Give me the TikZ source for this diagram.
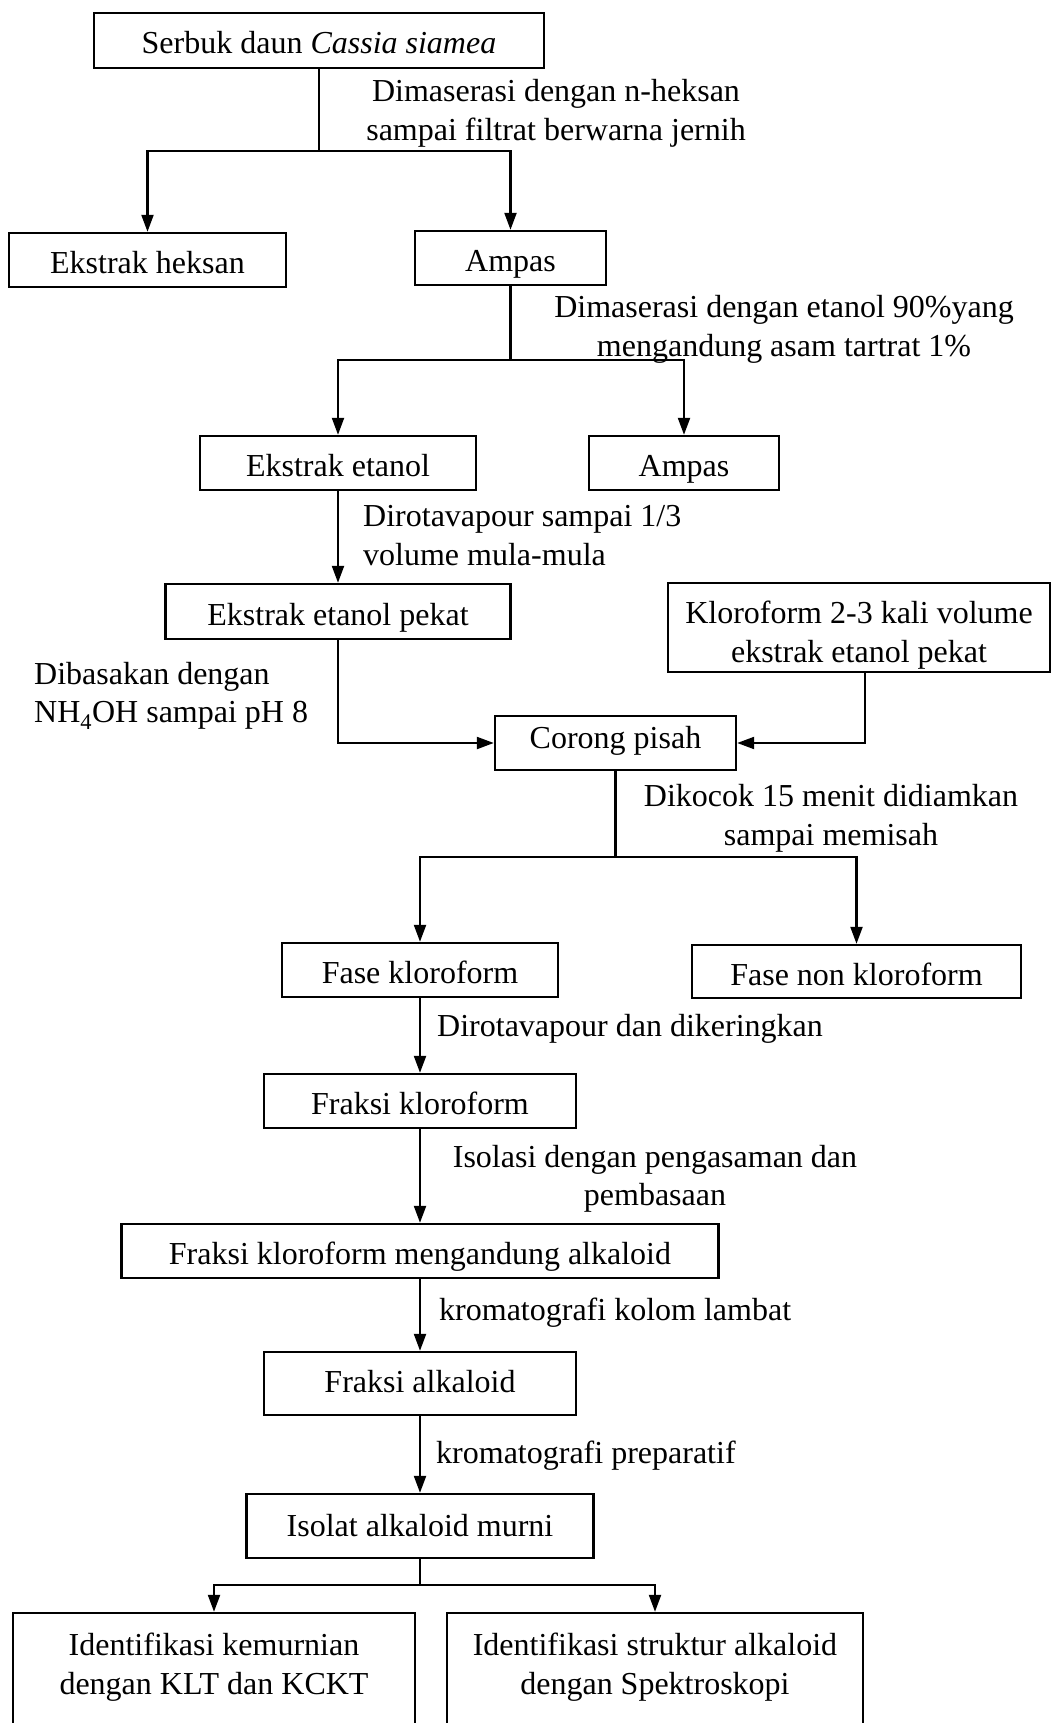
\documentclass[tikz,border=0pt]{standalone}
\usepackage{fontspec}
\setmainfont{Liberation Serif}
\usetikzlibrary{arrows.meta,calc}
\begin{document}
\begin{tikzpicture}[x=1pt,y=-1pt,
  every node/.style={font=\fontsize{32}{38.5}\selectfont},
  box/.style={draw, line width=2.4pt, inner sep=0pt, align=center},
  sbox/.style={box, text height=27pt, text depth=0pt},
  lbl/.style={inner sep=0pt, align=center, yshift=-3pt},
  slbl/.style={inner sep=0pt, anchor=west, text height=22pt, text depth=7pt, yshift=-1pt},
  lbll/.style={inner sep=0pt, align=left, anchor=west, yshift=-2pt},
  ln/.style={line width=2.2pt},
  arr/.style={line width=2.2pt, -{Triangle[length=17pt,width=12pt]}}]
\useasboundingbox (0,0) rectangle (1055,1723);
\clip (0,0) rectangle (1055,1723);
\fill[white] (0,0) rectangle (1055,1723);

% boxes
\node[sbox, minimum width=450, minimum height=55] (b1) at (319,40.5) {Serbuk daun \textit{Cassia siamea}};
\node[sbox, minimum width=277, minimum height=54] (b2) at (147.5,260) {Ekstrak heksan};
\node[sbox, minimum width=191, minimum height=54] (b3) at (510.5,258) {Ampas};
\node[sbox, minimum width=276, minimum height=54] (b4) at (338,463) {Ekstrak etanol};
\node[sbox, minimum width=190, minimum height=54] (b5) at (684,463) {Ampas};
\node[sbox, minimum width=345, minimum height=55] (b6) at (338,611.5) {Ekstrak etanol pekat};
\node[box, minimum width=382, minimum height=89] (b7) at (859,627.5) {\rule{0pt}{38pt}Kloroform 2-3 kali volume\\ekstrak etanol pekat};
\node[sbox, text height=10pt, minimum width=241, minimum height=54] (b8) at (615.5,743) {Corong pisah};
\node[sbox, minimum width=276, minimum height=54] (b9) at (420,970) {Fase kloroform};
\node[sbox, minimum width=329, minimum height=53] (b10) at (856.5,971.5) {Fase non kloroform};
\node[sbox, minimum width=312, minimum height=54] (b11) at (420,1101) {Fraksi kloroform};
\node[sbox, minimum width=597, minimum height=54] (b12) at (420,1251) {Fraksi kloroform mengandung alkaloid};
\node[sbox, text height=18pt, minimum width=312, minimum height=63] (b13) at (420,1383.5) {Fraksi alkaloid};
\node[sbox, text height=21pt, minimum width=347, minimum height=64] (b14) at (420,1526) {Isolat alkaloid murni};
\node[box, minimum width=402, minimum height=140] (b15) at (214,1683) {Identifikasi kemurnian\\dengan KLT dan KCKT\\ ~};
\node[box, minimum width=416, minimum height=140] (b16) at (655,1683) {Identifikasi struktur alkaloid\\dengan Spektroskopi\\ ~};

% labels
\node[lbl] (l1) at (556,110.5) {Dimaserasi dengan n-heksan\\sampai filtrat berwarna jernih};
\node[lbl] (l2) at (784,326.5) {Dimaserasi dengan etanol 90\%yang\\mengandung asam tartrat 1\%};
\node[lbll, yshift=4pt] (l3) at (363,537.5) {Dirotavapour sampai 1/3\\volume mula-mula};
\node[lbll] (l4) at (34,694) {Dibasakan dengan\\NH\textsubscript{4}OH sampai pH 8};
\node[lbl] (l5) at (831,815.5) {Dikocok 15 menit didiamkan\\sampai memisah};
\node[slbl] (l6) at (437,1028) {Dirotavapour dan dikeringkan};
\node[lbl] (l7) at (655,1176) {Isolasi dengan pengasaman dan\\pembasaan};
\node[slbl] (l8) at (439,1312) {kromatografi kolom lambat};
\node[slbl] (l9) at (436,1455) {kromatografi preparatif};

% connectors
\coordinate (j1) at (319,151);
\draw[ln] (b1.south) -- (j1);
\draw[arr] (j1) -| (b2.north);
\draw[arr] (j1) -| (b3.north);

\coordinate (j2) at (510.5,360);
\draw[ln] (b3.south) -- (j2);
\draw[arr] (j2) -| (b4.north);
\draw[arr] (j2) -| (b5.north);

\draw[arr] (b4.south) -- (b6.north);
\draw[arr] (b6.south) |- (b8.west);
\draw[arr] ([xshift=6]b7.south) |- (b8.east);

\coordinate (j3) at (615.5,857);
\draw[ln] (b8.south) -- (j3);
\draw[arr] (j3) -| (b9.north);
\draw[arr] (j3) -| (b10.north);

\draw[arr] (b9.south) -- (b11.north);
\draw[arr] (b11.south) -- (b12.north);
\draw[arr] (b12.south) -- (b13.north);
\draw[arr] (b13.south) -- (b14.north);

\coordinate (j4) at (420,1585);
\draw[ln] (b14.south) -- (j4);
\draw[arr] (j4) -| (b15.north);
\draw[arr] (j4) -| (b16.north);
\end{tikzpicture}
\end{document}
